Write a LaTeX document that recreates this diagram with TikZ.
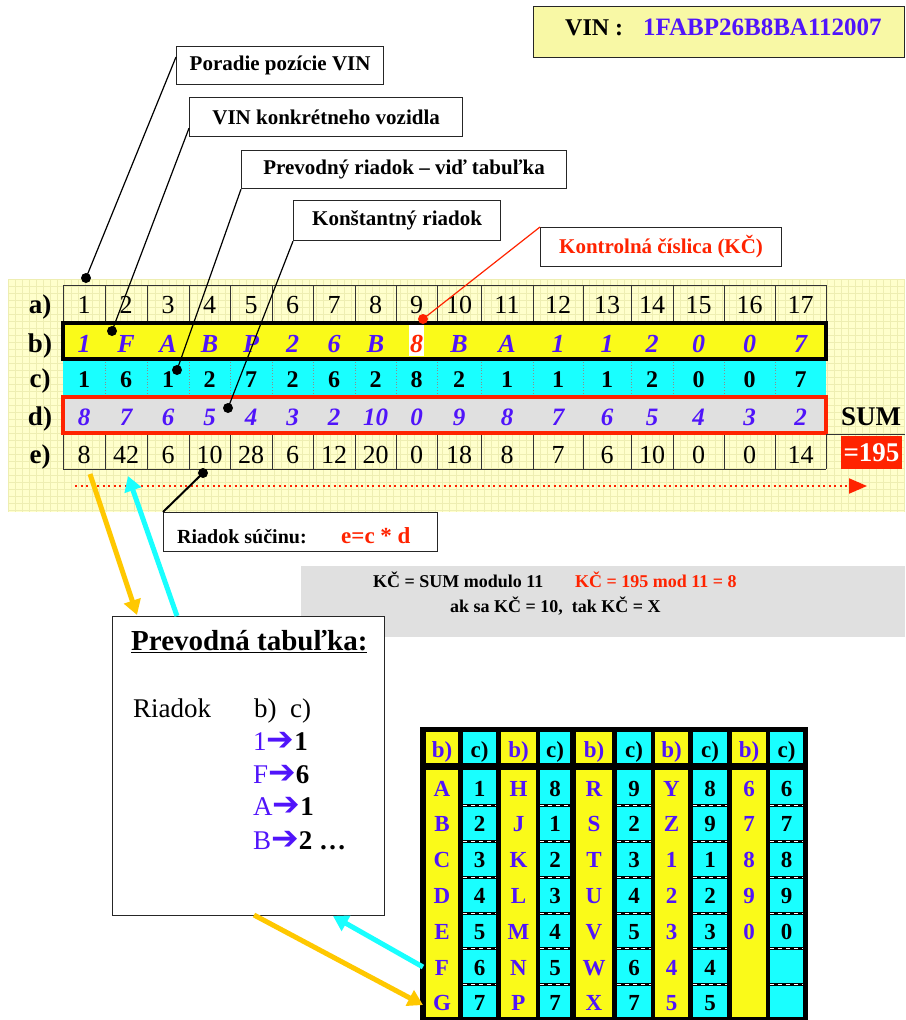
\documentclass[tikz,border=0pt]{standalone}
\usepackage{fontspec}
\setmainfont{Liberation Serif}
\newfontfamily\dejavu{DejaVu Sans}
\usetikzlibrary{arrows.meta,calc}
\definecolor{vblue}{RGB}{80,20,250}
\definecolor{vyellow}{RGB}{250,250,25}
\definecolor{vcyan}{RGB}{25,255,255}
\definecolor{vgray}{RGB}{224,224,224}
\definecolor{vred}{RGB}{255,35,0}
\definecolor{vorange}{RGB}{255,200,0}
\definecolor{bgyellow}{RGB}{255,255,204}
\definecolor{bggrid}{RGB}{238,238,178}
\definecolor{vinfill}{RGB}{248,248,165}
\newcommand{\setfs}[1]{\fontsize{#1pt}{#1pt}\selectfont}
\tikzset{
  callout/.style={draw=black!85, line width=1.2pt, fill=white, font=\bfseries\setfs{21}, inner sep=0pt, anchor=north west, minimum height=38pt},
  leader/.style={black, line width=1.2pt},
  gridl/.style={black!80, line width=1pt},
  rowlab/.style={anchor=base, font=\bfseries\setfs{27}},
  rowa/.style={anchor=base, font=\setfs{26}, inner sep=0pt},
  rowb/.style={anchor=base, font=\bfseries\itshape\setfs{26}, text=vblue, inner sep=0pt},
  rowc/.style={anchor=base, font=\bfseries\setfs{24}, inner sep=0pt},
  rowd/.style={anchor=base, font=\bfseries\itshape\setfs{25}, text=vblue, inner sep=0pt},
  fatarrow/.style={line width=5pt, -{Triangle[length=15pt,width=17pt]}},
  tbl/.style={anchor=base, font=\bfseries\setfs{23}, inner sep=0pt},
  txt/.style={anchor=base west, inner sep=0pt}
}
\begin{document}
\begin{tikzpicture}[x=1pt,y=-1pt]
\useasboundingbox (0,0) rectangle (905,1020);

% background grid paper
\fill[bgyellow] (8,279) rectangle (905,512);
\foreach \gx in {8,15,...,905} \draw[bggrid, line width=0.5pt] (\gx,279) -- (\gx,512);
\foreach \gy in {279,286,...,512} \draw[bggrid, line width=0.5pt] (8,\gy) -- (905,\gy);

% VIN box
\node[draw=black!85, line width=1.2pt, fill=vinfill, anchor=north west, minimum width=371pt, minimum height=51pt, inner sep=0pt] (vinbox) at (533,6) {};
\node[txt, font=\bfseries\setfs{24}] (vinlab) at (565,35) {VIN :};
\node[txt, font=\bfseries\setfs{25}, text=vblue] (vinnum) at (643,35) {1FABP26B8BA112007};

% callout boxes
\node[callout, minimum width=207pt] (cb1) at (176,46) {Poradie pozície VIN};
\node[callout, minimum width=273pt, minimum height=39pt] (cb2) at (189,97) {VIN konkrétneho vozidla};
\node[callout, minimum width=325pt] (cb3) at (241,150) {Prevodný riadok – viď tabuľka};
\node[callout, minimum width=207pt, minimum height=40pt] (cb4) at (293,200) {Konštantný riadok};
\node[callout, minimum width=241pt, minimum height=39pt, text=vred] (cb5) at (540,227) {Kontrolná číslica (KČ)};

% row b, c, d backgrounds
\draw[line width=4pt, fill=vyellow] (63,323) rectangle (826,359);
\fill[white] (409,325) rectangle (424,356);
\fill[vcyan] (63,361) rectangle (826,396);
\foreach \bx in {105,147,189,230,272,313,355,396,437,481,533,583,631,673,724,775}
  \draw[black!45, line width=0.8pt, dotted] (\bx,362) -- (\bx,395);
\draw[vred, line width=4pt, fill=vgray] (63,397) rectangle (826,433);

% grid lines rows a and e
\draw[gridl] (63,285) -- (826,285);
\draw[gridl] (63,469) -- (826,469);
\draw[gridl] (826,434) -- (905,434);
\foreach \bx in {63,105,147,189,230,272,313,355,396,437,481,533,583,631,673,724,775,826} {
  \draw[gridl] (\bx,285) -- (\bx,321);
  \draw[gridl] (\bx,435) -- (\bx,469);
}

% row labels
\node[rowlab] (la) at (40,313) {a)};
\node[rowlab] (lb) at (40,352) {b)};
\node[rowlab] (lc) at (40,387) {c)};
\node[rowlab] (ld) at (40,425) {d)};
\node[rowlab] (le) at (40,463) {e)};

% table values
\foreach \l/\r/\va/\vb/\vc/\vd/\ve [count=\i] in {
63/105/1/1/1/8/8,
105/147/2/F/6/7/42,
147/189/3/A/1/6/6,
189/230/4/B/2/5/10,
230/272/5/P/7/4/28,
272/313/6/2/2/3/6,
313/355/7/6/6/2/12,
355/396/8/B/2/10/20,
396/437/9/{\color{vred}8}/8/0/0,
437/481/10/B/2/9/18,
481/533/11/A/1/8/8,
533/583/12/1/1/7/7,
583/631/13/1/1/6/6,
631/673/14/2/2/5/10,
673/724/15/0/0/4/0,
724/775/16/0/0/3/0,
775/826/17/7/7/2/14} {
  \pgfmathsetmacro\cx{(\l+\r)/2}
  \node[rowa] (ra\i) at (\cx,313) {\va};
  \node[rowb] (rb\i) at (\cx,352) {\vb};
  \node[rowc] (rc\i) at (\cx,387) {\vc};
  \node[rowd] (rd\i) at (\cx,425) {\vd};
  \node[rowa] (re\i) at (\cx,463) {\ve};
}

% SUM
\node[anchor=base, font=\bfseries\setfs{27}, inner sep=0pt] (sum) at (871,425) {SUM};
\node[fill=vred, text=white, font=\bfseries\setfs{27}, minimum width=61pt, minimum height=33pt, inner sep=0pt] (sumval) at (871.5,452.5) {=195};

% red dotted direction arrow
\coordinate (dirs) at (75,486);
\coordinate (dire) at (867,486);
\draw[vred, line width=2pt, dash pattern=on 2pt off 3.5pt, -{Triangle[length=18pt,width=15pt]}] (dirs) -- (dire);

% leader lines
\coordinate (p1) at (86,278);
\coordinate (p2) at (112,331);
\coordinate (p3) at (177,370);
\coordinate (p4) at (228,408);
\coordinate (p5) at (423,319);
\coordinate (p6) at (203,473);
\draw[leader] ($(cb1.north west)+(0,11)$) -- (p1);
\draw[leader] ($(cb2.south west)+(0,-9)$) -- (p2);
\draw[leader] (cb3.south west) -- (p3);
\draw[leader] (cb4.south west) -- (p4);
\draw[vred, line width=1.2pt] (cb5.north west) -- (p5);
\foreach \p in {p1,p2,p3,p4,p6} \fill (\p) circle (5pt);
\fill[vred] (p5) circle (5pt);

% Riadok sucinu box
\node[callout, minimum width=274pt, minimum height=39pt] (sucin) at (163,512) {};
\draw[leader, line width=2pt] (sucin.north west) -- (p6);
\node[txt, font=\bfseries\setfs{20}] (sucintxt) at (177,543) {Riadok súčinu:};
\node[txt, font=\bfseries\setfs{23}, text=vred] (sucinf) at (341,543) {e=c * d};

% KC gray box
\node[fill=vgray, anchor=north west, minimum width=604pt, minimum height=71pt, inner sep=0pt] (kcbox) at (301,566) {};
\node[txt, font=\bfseries\setfs{18}] (kc1) at (373,587) {KČ = SUM modulo 11};
\node[txt, font=\bfseries\setfs{18}, text=vred] (kc2) at (575,587) {KČ = 195 mod 11 = 8};
\node[txt, font=\bfseries\setfs{18}] (kc3) at (450,612) {ak sa KČ = 10,\ \ tak KČ = X};

% Prevodna tabulka box
\node[draw=black!85, line width=1.2pt, fill=white, anchor=north west, minimum width=272pt, minimum height=299pt, inner sep=0pt] (ptab) at (112,616) {};
\node[txt, font=\bfseries\setfs{29}] (ptitle) at (131,650) {\underline{Prevodná tabuľka:}};
\node[txt, font=\setfs{27}] (priad) at (133,717) {Riadok};
\node[txt, font=\setfs{27}] (pbc) at (254,717) {b)\ \ c)};
\node[txt, font=\setfs{27}] (pl1) at (253,750) {\textcolor{vblue}{1}{\dejavu\setfs{33}\textcolor{vblue}{➔}}\textbf{1}};
\node[txt, font=\setfs{27}] (pl2) at (253,783) {\textcolor{vblue}{F}{\dejavu\setfs{33}\textcolor{vblue}{➔}}\textbf{6}};
\node[txt, font=\setfs{27}] (pl3) at (253,815) {\textcolor{vblue}{A}{\dejavu\setfs{33}\textcolor{vblue}{➔}}\textbf{1}};
\node[txt, font=\setfs{27}] (pl4) at (253,849) {\textcolor{vblue}{B}{\dejavu\setfs{33}\textcolor{vblue}{➔}}\textbf{2 …}};

% conversion table (bottom right)
\node[fill=black, anchor=north west, minimum width=388pt, minimum height=293pt, inner sep=0pt] (ctab) at (420,727) {};
\foreach \xl/\xr/\lst [count=\k] in {426/458/{A,B,C,D,E,F,G}, 501/536/{H,J,K,L,M,N,P}, 576/612/{R,S,T,U,V,W,X}, 655/688/{Y,Z,1,2,3,4,5}, 732/766/{6,7,8,9,0}} {
  \pgfmathsetmacro\tx{(\xl+\xr)/2}
  \fill[vyellow] (\xl,732) rectangle (\xr,763);
  \fill[vyellow] (\xl,770) rectangle (\xr,1017);
  \node[tbl, text=vblue] (hy\k) at (\tx,757) {b)};
  \foreach \t [count=\r] in \lst {
    \pgfmathsetmacro\ty{796+35.83*(\r-1)}
    \node[tbl, text=vblue] (ty\k-\r) at (\tx,\ty) {\t};
  }
}
\foreach \xl/\xr/\lst [count=\k] in {463/496/{1,2,3,4,5,6,7}, 540/570/{8,1,2,3,4,5,7}, 617/651/{9,2,3,4,5,6,7}, 693/727/{8,9,1,2,3,4,5}, 770/803/{6,7,8,9,0}} {
  \pgfmathsetmacro\tx{(\xl+\xr)/2}
  \fill[vcyan] (\xl,732) rectangle (\xr,763);
  \fill[vcyan] (\xl,770) rectangle (\xr,1017);
  \foreach \sr in {0,...,5} {
    \pgfmathsetmacro\sy{805.5+35.83*\sr}
    \draw[black, line width=3pt] (\xl,\sy) -- (\xr,\sy);
    \draw[white, line width=1pt, dash pattern=on 4pt off 4pt] (\xl,\sy) -- (\xr,\sy);
  }
  \node[tbl] (hc\k) at (\tx,757) {c)};
  \foreach \t [count=\r] in \lst {
    \pgfmathsetmacro\ty{796+35.83*(\r-1)}
    \node[tbl] (tc\k-\r) at (\tx,\ty) {\t};
  }
}

% fat arrows
\coordinate (o1s) at (90,474);
\coordinate (o1e) at (137,615);
\coordinate (q1s) at (177,616);
\coordinate (q1e) at (128,476);
\coordinate (o2s) at (254,915);
\coordinate (o2e) at (423,1005);
\coordinate (q2s) at (423,967);
\coordinate (q2e) at (333,916);
\draw[fatarrow, vorange] (o1s) -- (o1e);
\draw[fatarrow, vcyan] (q1s) -- (q1e);
\draw[fatarrow, vorange] (o2s) -- (o2e);
\draw[fatarrow, vcyan] (q2s) -- (q2e);
\end{tikzpicture}
\end{document}
